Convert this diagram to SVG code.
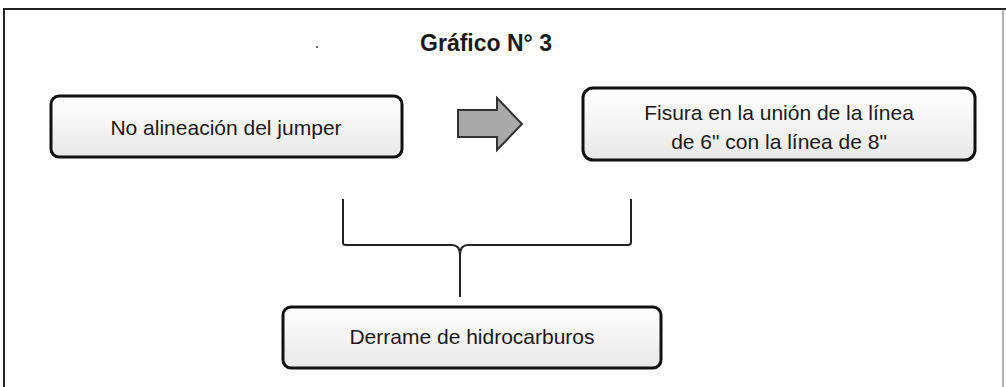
<svg xmlns="http://www.w3.org/2000/svg" width="1006" height="387" viewBox="0 0 1006 387">
<defs>
<linearGradient id="g" x1="0" y1="0" x2="0" y2="1"><stop offset="0" stop-color="#ffffff"/><stop offset="1" stop-color="#e8e8e8"/></linearGradient>
<style>
.box{fill:url(#g);stroke:#111;stroke-width:3}
.t{font-family:"Liberation Sans",Arial,sans-serif;font-size:21px;fill:#1a1a1a;text-anchor:middle}
.ln{fill:none;stroke:#222;stroke-width:2}
</style>
</defs>
<rect width="1006" height="387" fill="#fff"/>
<path d="M4 387 V9 H1006" class="ln"/>
<path d="M1003 9 V387" stroke="#666" stroke-width="1" fill="none"/>
<text x="486" y="51" class="t" style="font-weight:bold;font-size:23px">Gráfico N° 3</text>
<circle cx="317" cy="47" r="1" fill="#333"/>
<g id="n1"><rect x="51" y="96" width="351" height="61" rx="8" class="box"/><text x="226" y="135" class="t">No alineación del jumper</text></g>
<g id="arrow"><path d="M458 110 H497 V98 L522 124 L497 150 V137 H458 Z" fill="#a9a9a9" stroke="#333" stroke-width="2"/></g>
<g id="n2"><rect x="583" y="88" width="392" height="72" rx="10" class="box"/><text x="779" y="120" class="t">Fisura en la unión de la línea</text><text x="779" y="149" class="t">de 6" con la línea de 8"</text></g>
<g id="connectors"><path d="M343 199 V243 Q343 245 346 245 H452 Q460 245 460 255 V297 M460 255 Q460 245 468 245 H628 Q631 245 631 242 V199" class="ln"/></g>
<g id="n3"><rect x="283" y="307" width="378" height="61" rx="8" class="box"/><text x="472" y="344" class="t">Derrame de hidrocarburos</text></g>
</svg>
